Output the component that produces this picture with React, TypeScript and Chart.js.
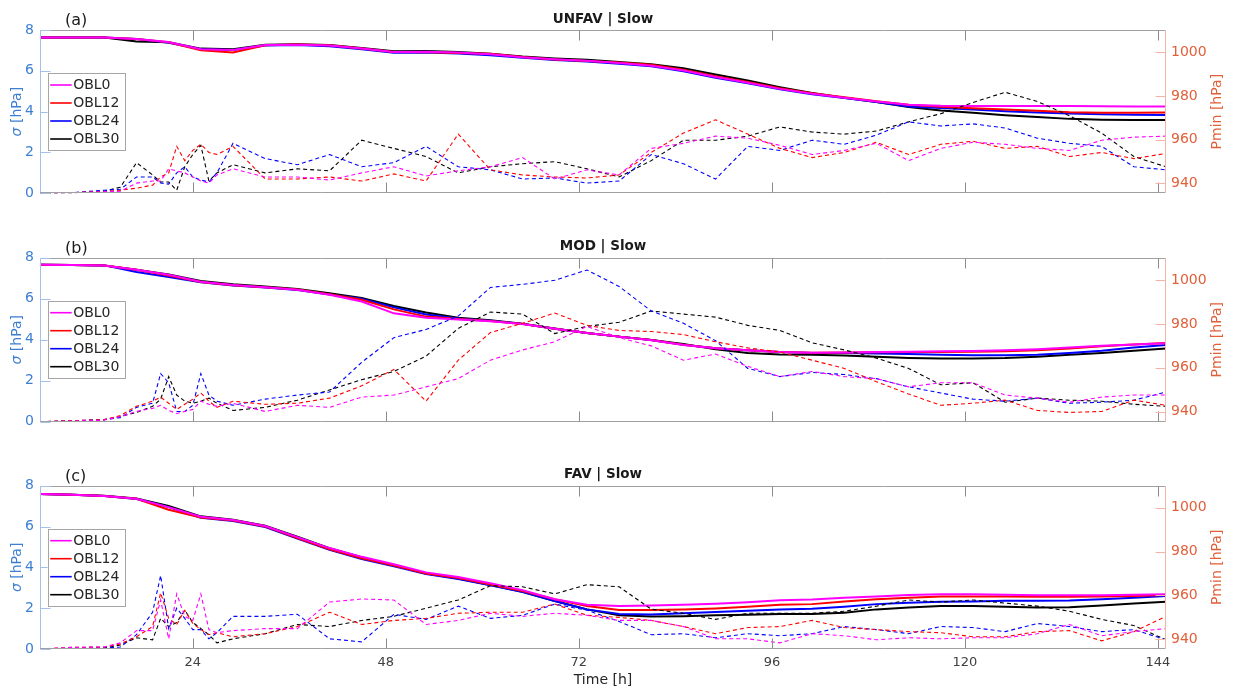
import React, { useEffect, useRef } from 'react';
import { Chart, registerables } from 'chart.js';

Chart.register(...registerables);

// ---------- data ----------
const SERIES = ['OBL0', 'OBL12', 'OBL24', 'OBL30'];
const COLORS = ['#ff00ff', '#ff0000', '#0000ff', '#000000'];
const X_TICKS = [24, 48, 72, 96, 120, 144];
const SIGMA_TICKS = [0, 2, 4, 6, 8];
const PMIN_TICKS = [940, 960, 980, 1000];

// time axis of the solid (Pmin) curves [h]
const TS = [5, 9, 13, 17, 21, 25, 29, 33, 37, 41, 45, 49, 53, 57, 61, 65, 69, 73, 77, 81, 85, 89, 93, 97, 101, 105, 109, 113, 117, 121, 125, 129, 133, 137, 141, 145];
// time axis of the dashed (sigma) curves [h]
const TD = [5, 9, 13, 15, 17, 19, 20, 21, 22, 23, 24, 25, 26, 27, 29, 33, 37, 41, 45, 49, 53, 57, 61, 65, 69, 73, 77, 81, 85, 89, 93, 97, 101, 105, 109, 113, 117, 121, 125, 129, 133, 137, 141, 145];

// (a) UNFAV | Slow  - Pmin [hPa]
const A_P0 = [1006.7, 1006.7, 1006.7, 1006.0, 1004.6, 1001.3, 1001.0, 1003.2, 1003.4, 1003.0, 1001.6, 1000.1, 1000.2, 999.8, 999.0, 997.6, 996.7, 996.0, 995.0, 993.8, 991.6, 988.6, 986.0, 983.2, 981.0, 979.2, 977.4, 976.0, 975.5, 975.4, 975.4, 975.4, 975.4, 975.3, 975.1, 975.1];
const A_P12 = [1006.7, 1006.7, 1006.7, 1006.0, 1004.5, 1000.9, 999.8, 1003.1, 1003.5, 1003.1, 1001.7, 1000.0, 999.9, 999.6, 999.2, 997.8, 996.6, 995.9, 995.2, 994.2, 992.0, 989.0, 986.4, 983.5, 981.2, 979.4, 977.5, 975.9, 975.0, 974.4, 973.8, 973.2, 972.5, 972.3, 972.3, 972.4];
const A_P24 = [1006.7, 1006.7, 1006.7, 1006.0, 1004.3, 1001.3, 1001.0, 1003.0, 1003.2, 1002.7, 1001.3, 999.7, 999.8, 999.4, 998.6, 997.4, 996.4, 995.7, 994.7, 993.5, 991.3, 988.3, 985.8, 983.0, 980.8, 979.0, 977.2, 975.2, 974.5, 973.8, 973.0, 972.4, 971.9, 971.6, 971.4, 971.3];
const A_P30 = [1006.7, 1006.7, 1006.7, 1004.9, 1004.5, 1001.6, 1001.3, 1003.4, 1003.6, 1003.2, 1001.9, 1000.4, 1000.5, 1000.0, 999.3, 998.0, 997.1, 996.5, 995.5, 994.5, 992.6, 989.8, 987.0, 984.0, 981.3, 979.2, 977.2, 974.9, 973.3, 972.3, 971.2, 970.3, 969.5, 969.1, 969.0, 969.0];
// (a) sigma [hPa]
const A_S0 = [0, 0.03, 0.08, 0.1, 0.5, 0.6, 0.6, 1.2, 1.1, 1.0, 0.8, 0.6, 0.5, 0.9, 1.2, 0.8, 0.8, 0.65, 1.0, 1.3, 0.85, 1.1, 1.3, 1.75, 0.7, 1.15, 0.9, 2.2, 2.45, 2.8, 2.7, 2.35, 1.9, 2.1, 2.45, 1.6, 2.2, 2.5, 2.4, 2.2, 2.1, 2.6, 2.75, 2.8];
const A_S12 = [0, 0.03, 0.08, 0.15, 0.25, 0.4, 0.8, 1.0, 2.3, 1.6, 2.1, 2.4, 2.0, 1.9, 2.3, 0.7, 0.7, 0.8, 0.6, 0.95, 0.6, 2.9, 1.15, 0.9, 0.8, 0.75, 0.9, 2.0, 2.95, 3.6, 2.9, 2.2, 1.75, 2.0, 2.5, 1.9, 2.4, 2.55, 2.2, 2.3, 1.8, 2.0, 1.7, 1.95];
const A_S24 = [0, 0.03, 0.15, 0.2, 0.8, 0.8, 0.5, 0.45, 1.0, 1.3, 0.8, 0.65, 0.55, 1.0, 2.45, 1.7, 1.4, 1.9, 1.3, 1.5, 2.3, 1.3, 1.15, 0.7, 0.75, 0.5, 0.6, 1.9, 1.45, 0.7, 2.3, 2.1, 2.6, 2.4, 2.85, 3.5, 3.3, 3.4, 3.2, 2.7, 2.45, 2.3, 1.3, 1.15];
const A_S30 = [0, 0.02, 0.1, 0.3, 1.5, 0.9, 0.55, 0.55, 0.15, 1.3, 1.9, 2.35, 0.6, 1.0, 1.4, 1.0, 1.2, 1.1, 2.6, 2.2, 1.8, 1.0, 1.3, 1.45, 1.55, 1.2, 0.8, 1.6, 2.6, 2.6, 2.8, 3.25, 3.0, 2.9, 3.05, 3.5, 3.9, 4.45, 4.95, 4.5, 3.8, 2.95, 1.8, 1.3];

// (b) MOD | Slow - Pmin [hPa]
const B_P0 = [1006.9, 1006.8, 1006.6, 1004.6, 1002.3, 999.2, 997.7, 996.7, 995.5, 993.2, 990.2, 984.8, 982.8, 982.0, 981.2, 979.9, 977.8, 975.8, 974.2, 972.6, 970.4, 968.9, 968.0, 967.2, 966.9, 967.0, 967.2, 967.3, 967.5, 967.7, 968.0, 968.5, 969.2, 970.0, 970.6, 971.2];
const B_P12 = [1006.9, 1006.8, 1006.6, 1004.6, 1002.0, 999.0, 997.6, 996.7, 995.6, 993.5, 991.0, 986.6, 983.3, 982.2, 981.3, 979.9, 977.8, 975.8, 974.2, 972.7, 970.5, 968.9, 968.0, 967.2, 966.9, 967.0, 967.1, 967.2, 967.2, 967.3, 967.5, 968.0, 968.8, 969.8, 970.6, 971.3];
const B_P24 = [1006.9, 1006.8, 1006.6, 1003.6, 1001.3, 998.9, 997.5, 996.6, 995.4, 993.4, 991.4, 987.5, 984.3, 982.5, 981.4, 980.0, 977.8, 975.8, 974.2, 972.7, 970.5, 968.9, 968.0, 967.2, 966.8, 966.7, 966.5, 966.3, 966.0, 965.7, 965.7, 966.0, 966.8, 967.8, 969.2, 970.4];
const B_P30 = [1006.9, 1006.8, 1006.6, 1004.6, 1002.5, 999.5, 998.0, 997.0, 995.9, 993.9, 991.8, 988.1, 985.2, 982.8, 981.6, 980.1, 977.9, 975.8, 974.2, 972.7, 970.8, 968.4, 966.8, 966.1, 966.0, 965.6, 965.0, 964.5, 964.3, 964.3, 964.5, 965.1, 966.0, 966.8, 967.8, 968.8];
// (b) sigma [hPa]
const B_S0 = [0, 0.03, 0.08, 0.25, 0.5, 0.65, 0.8, 0.55, 0.4, 0.5, 0.6, 1.0, 0.85, 0.75, 0.9, 0.5, 0.8, 0.7, 1.2, 1.3, 1.7, 2.1, 3.0, 3.5, 3.9, 4.65, 4.1, 3.7, 3.0, 3.3, 2.7, 2.2, 2.45, 2.2, 2.1, 1.7, 1.9, 1.9, 1.3, 1.15, 0.95, 1.2, 1.3, 1.3];
const B_S12 = [0, 0.05, 0.1, 0.3, 0.75, 1.0, 1.2, 0.9, 0.6, 0.85, 1.1, 1.4, 1.0, 0.7, 1.0, 0.85, 0.9, 1.15, 1.75, 2.55, 1.0, 3.0, 4.35, 4.8, 5.3, 4.7, 4.45, 4.4, 4.25, 3.9, 3.6, 3.4, 3.0, 2.6, 1.95, 1.35, 0.8, 0.9, 1.05, 0.55, 0.45, 0.5, 1.05, 0.8];
const B_S24 = [0, 0.05, 0.1, 0.2, 0.7, 0.9, 2.35, 1.9, 0.5, 0.5, 0.8, 2.35, 1.3, 1.0, 0.8, 1.1, 1.3, 1.45, 2.9, 4.1, 4.5, 5.15, 6.55, 6.7, 6.9, 7.4, 6.6, 5.4, 4.8, 3.95, 2.6, 2.2, 2.4, 2.3, 2.1, 1.7, 1.4, 1.1, 1.0, 1.15, 0.9, 0.95, 1.05, 1.45];
const B_S30 = [0, 0.03, 0.1, 0.25, 0.45, 0.75, 1.1, 2.2, 1.3, 1.0, 0.9, 1.0, 1.15, 0.9, 0.55, 0.7, 1.05, 1.55, 2.05, 2.45, 3.2, 4.55, 5.35, 5.25, 4.3, 4.65, 4.85, 5.4, 5.25, 5.1, 4.7, 4.45, 3.85, 3.5, 3.1, 2.6, 1.8, 1.9, 0.95, 1.15, 1.05, 1.0, 0.85, 0.75];

// (c) FAV | Slow - Pmin [hPa]
const C_P0 = [1006.35, 1006.0, 1005.4, 1004.1, 1000.3, 995.9, 994.4, 991.7, 986.6, 981.6, 977.6, 974.2, 970.5, 968.4, 965.5, 962.4, 958.2, 955.7, 955.1, 955.4, 955.7, 956.2, 956.9, 957.8, 958.1, 958.9, 959.5, 960.2, 960.5, 960.5, 960.3, 960.0, 960.0, 960.1, 960.3, 960.5];
const C_P12 = [1006.35, 1006.0, 1005.4, 1004.1, 999.1, 995.6, 994.2, 991.5, 986.2, 981.0, 977.0, 973.6, 970.0, 967.9, 965.0, 962.0, 958.2, 955.1, 953.3, 953.3, 953.5, 954.0, 954.8, 955.7, 956.0, 957.2, 958.2, 958.9, 959.5, 959.5, 959.5, 959.4, 959.4, 959.5, 959.7, 960.2];
const C_P24 = [1006.35, 1006.0, 1005.4, 1004.0, 1000.3, 995.5, 994.0, 991.2, 986.0, 980.8, 976.6, 973.3, 969.8, 967.5, 964.6, 961.5, 957.4, 953.6, 951.5, 951.3, 951.8, 952.4, 953.0, 953.6, 953.9, 954.8, 956.0, 956.6, 957.1, 957.2, 957.5, 957.5, 957.6, 958.2, 958.9, 959.7];
const C_P30 = [1006.35, 1006.0, 1005.5, 1004.3, 1000.8, 996.1, 994.6, 991.8, 986.8, 981.6, 977.4, 973.8, 970.0, 967.7, 964.7, 961.6, 957.4, 953.6, 950.9, 950.4, 950.5, 950.9, 951.2, 951.5, 951.5, 952.1, 953.6, 954.5, 955.1, 955.1, 954.8, 954.5, 954.6, 955.4, 956.3, 957.1];
// (c) sigma [hPa]
const C_S0 = [0, 0.08, 0.1, 0.3, 0.9, 0.9, 2.4, 0.5, 2.7, 1.6, 1.4, 2.7, 0.95, 0.8, 0.9, 1.0, 1.0, 2.3, 2.45, 2.4, 1.2, 1.4, 1.75, 1.6, 1.75, 1.65, 1.4, 1.4, 1.1, 0.5, 0.5, 0.3, 0.75, 0.65, 0.45, 0.55, 0.5, 0.55, 0.55, 0.75, 1.2, 0.65, 0.85, 1.0];
const C_S12 = [0, 0.08, 0.1, 0.25, 0.6, 1.1, 2.75, 1.5, 1.2, 1.9, 1.25, 0.95, 0.7, 0.8, 0.6, 0.75, 1.1, 1.8, 1.2, 1.4, 1.5, 1.75, 1.8, 1.8, 2.2, 1.65, 1.55, 1.4, 1.1, 0.75, 1.05, 1.1, 1.4, 1.05, 0.95, 0.85, 0.8, 0.6, 0.6, 0.85, 0.9, 0.4, 0.85, 1.6];
const C_S24 = [0, 0.05, 0.05, 0.1, 0.7, 1.8, 3.6, 1.0, 2.0, 1.5, 0.95, 0.95, 0.5, 0.8, 1.6, 1.6, 1.7, 0.5, 0.35, 1.7, 1.45, 2.1, 1.5, 1.65, 2.2, 1.9, 1.35, 0.7, 0.75, 0.55, 0.75, 0.65, 0.75, 1.1, 0.95, 0.75, 1.1, 1.05, 0.85, 1.25, 1.1, 0.85, 0.95, 0.45];
const C_S30 = [0, 0.02, 0.05, 0.2, 0.55, 0.45, 1.5, 1.1, 1.3, 1.9, 1.3, 1.0, 0.7, 0.3, 0.5, 0.75, 1.2, 1.1, 1.4, 1.6, 2.0, 2.4, 3.1, 3.05, 2.7, 3.15, 3.05, 1.95, 1.75, 1.45, 1.75, 1.75, 1.75, 1.85, 2.1, 2.4, 2.3, 2.4, 2.25, 2.1, 1.85, 1.45, 1.15, 0.45];

const PANEL_LABELS = ['(a)', '(b)', '(c)'];
const PANEL_TITLES = ['UNFAV | Slow', 'MOD | Slow', 'FAV | Slow'];
const PANEL_PMIN = [[A_P0, A_P12, A_P24, A_P30], [B_P0, B_P12, B_P24, B_P30], [C_P0, C_P12, C_P24, C_P30]];
const PANEL_SIGMA = [[A_S0, A_S12, A_S24, A_S30], [B_S0, B_S12, B_S24, B_S30], [C_S0, C_S12, C_S24, C_S30]];

// ---------- layout / style ----------
const FONT = '"DejaVu Sans", "Liberation Sans", sans-serif';
const LEFT_COL = '#3d7fd1';
const LEFT_AXIS = '#a3c1e8';
const RIGHT_COL = '#e0603a';
const RIGHT_AXIS = '#f2b6a6';
const BOX_GREY = '#a0a0a0';

const LAYOUT = [
  { top: 0, height: 228, padTop: 30, xH: 34.7, bottom: false },
  { top: 228, height: 228, padTop: 29.7, xH: 34.3, bottom: false },
  { top: 456, height: 233, padTop: 29.7, xH: 40, bottom: true },
];

function makeDecor(idx: number) {
  const lay = LAYOUT[idx];
  return {
    id: 'decor' + idx,
    afterDatasetsDraw(chart: any) {
      const ctx: CanvasRenderingContext2D = chart.ctx;
      const { left, right, top, bottom } = chart.chartArea;
      const xs = chart.scales.x;
      const ys = chart.scales.ys;
      const yp = chart.scales.yp;
      ctx.save();
      ctx.lineWidth = 1;
      const seg = (x1: number, y1: number, x2: number, y2: number, c: string) => {
        ctx.strokeStyle = c;
        ctx.beginPath();
        ctx.moveTo(x1, y1);
        ctx.lineTo(x2, y2);
        ctx.stroke();
      };
      const T = Math.round(top) + 0.5;
      const B = Math.round(bottom) - 0.5;
      const L = Math.round(left) + 0.5;
      const R = Math.round(right) - 0.5;
      // box
      seg(L, T, R, T, BOX_GREY);
      seg(L, B, R, B, BOX_GREY);
      for (const v of X_TICKS) {
        const px = Math.round(xs.getPixelForValue(v)) + 0.5;
        seg(px, T, px, T + 10, '#8c8c8c');
        seg(px, B, px, B - 10, '#8c8c8c');
      }
      seg(L, T, L, B, LEFT_AXIS);
      for (const v of SIGMA_TICKS) {
        const py = Math.round(ys.getPixelForValue(v)) + 0.5;
        seg(L, py, L + 10, py, LEFT_AXIS);
      }
      seg(R, T, R, B, RIGHT_AXIS);
      for (const v of PMIN_TICKS) {
        const py = Math.round(yp.getPixelForValue(v)) + 0.5;
        seg(R, py, R - 10, py, RIGHT_AXIS);
      }

      // legend
      const lx = left + 7.7;
      const ly = top + 43;
      ctx.fillStyle = '#ffffff';
      ctx.fillRect(lx, ly, 77.3, 77);
      ctx.strokeStyle = '#a6a6a6';
      ctx.strokeRect(Math.round(lx) + 0.5, Math.round(ly) + 0.5, 77, 77);
      ctx.font = '14px ' + FONT;
      ctx.textBaseline = 'middle';
      ctx.textAlign = 'left';
      SERIES.forEach((name, i) => {
        const yy = ly + 12 + i * 18;
        ctx.lineWidth = 1.6;
        seg(lx + 2.5, yy, lx + 24, yy, COLORS[i]);
        ctx.fillStyle = '#262626';
        ctx.fillText(name, lx + 25.5, yy + 0.5);
      });
      ctx.lineWidth = 1;

      // panel label and title
      ctx.fillStyle = '#1a1a1a';
      ctx.font = '16px ' + FONT;
      ctx.textAlign = 'left';
      ctx.fillText(PANEL_LABELS[idx], 65, top - 9);
      ctx.font = 'bold 13.5px ' + FONT;
      ctx.textAlign = 'center';
      ctx.fillText(PANEL_TITLES[idx], (left + right) / 2, top - 11);

      // left axis title (sigma)
      const mid = (top + bottom) / 2;
      ctx.save();
      ctx.translate(17, mid);
      ctx.rotate(-Math.PI / 2);
      ctx.fillStyle = LEFT_COL;
      ctx.font = 'italic 14px ' + FONT;
      const w1 = ctx.measureText('σ').width;
      ctx.font = '14px ' + FONT;
      const w2 = ctx.measureText(' [hPa]').width;
      const start = -(w1 + w2) / 2;
      ctx.textAlign = 'left';
      ctx.font = 'italic 14px ' + FONT;
      ctx.fillText('σ', start, 0);
      ctx.font = '14px ' + FONT;
      ctx.fillText(' [hPa]', start + w1, 0);
      ctx.restore();

      // right axis title (Pmin)
      ctx.save();
      ctx.translate(1217, mid);
      ctx.rotate(-Math.PI / 2);
      ctx.fillStyle = RIGHT_COL;
      ctx.font = '14px ' + FONT;
      ctx.textAlign = 'center';
      ctx.fillText('Pmin [hPa]', 0, 0);
      ctx.restore();

      if (lay.bottom) {
        ctx.fillStyle = '#262626';
        ctx.font = '14px ' + FONT;
        ctx.textAlign = 'center';
        ctx.fillText('Time [h]', (left + right) / 2, 224);
      }
      ctx.restore();
    },
  };
}

function Panel({ idx }: { idx: number }) {
  const ref = useRef<HTMLCanvasElement | null>(null);
  useEffect(() => {
    const lay = LAYOUT[idx];
    const sigma = PANEL_SIGMA[idx];
    const pmin = PANEL_PMIN[idx];
    const datasets: any[] = [];
    SERIES.forEach((name, i) => {
      datasets.push({
        label: name + ' σ',
        data: TD.map((t, k) => ({ x: t, y: sigma[i][k] })),
        yAxisID: 'ys',
        borderColor: COLORS[i],
        borderWidth: 1.1,
        borderDash: [4, 3],
        pointRadius: 0,
        tension: 0,
        fill: false,
      });
    });
    SERIES.forEach((name, i) => {
      datasets.push({
        label: name,
        data: TS.map((t, k) => ({ x: t, y: pmin[i][k] })),
        yAxisID: 'yp',
        borderColor: COLORS[i],
        borderWidth: 2,
        pointRadius: 0,
        tension: 0,
        fill: false,
      });
    });
    const plain = (v: any) => String(v);
    const chart = new Chart(ref.current as HTMLCanvasElement, {
      type: 'line',
      data: { datasets },
      plugins: [makeDecor(idx)],
      options: {
        animation: false,
        responsive: false,
        maintainAspectRatio: false,
        layout: { padding: { top: lay.padTop, left: 0, right: 0, bottom: 0 } },
        plugins: {
          legend: { display: false },
          tooltip: { enabled: false },
          title: { display: false },
        },
        scales: {
          x: {
            type: 'linear',
            position: 'bottom',
            min: 5,
            max: 145,
            afterBuildTicks: (s: any) => {
              s.ticks = X_TICKS.map((v) => ({ value: v }));
            },
            afterFit: (s: any) => {
              s.height = lay.xH;
            },
            grid: { display: false, drawTicks: false },
            border: { display: false },
            ticks: {
              display: lay.bottom,
              color: '#404040',
              font: { family: FONT, size: 13 },
              padding: 6,
              maxRotation: 0,
              autoSkip: false,
              callback: plain,
            },
          },
          ys: {
            type: 'linear',
            position: 'left',
            min: 0,
            max: 8,
            afterBuildTicks: (s: any) => {
              s.ticks = SIGMA_TICKS.map((v) => ({ value: v }));
            },
            afterFit: (s: any) => {
              s.width = 40;
            },
            grid: { display: false, drawTicks: false },
            border: { display: false },
            ticks: { color: LEFT_COL, font: { family: FONT, size: 14 }, padding: 6, callback: plain },
          },
          yp: {
            type: 'linear',
            position: 'right',
            min: 935.5,
            max: 1010.1,
            afterBuildTicks: (s: any) => {
              s.ticks = PMIN_TICKS.map((v) => ({ value: v }));
            },
            afterFit: (s: any) => {
              s.width = 70;
            },
            grid: { display: false, drawTicks: false },
            border: { display: false },
            ticks: { color: RIGHT_COL, font: { family: FONT, size: 14 }, padding: 5, callback: plain },
          },
        },
      } as any,
    });
    return () => chart.destroy();
  }, [idx]);
  const lay = LAYOUT[idx];
  return (
    <canvas
      ref={ref}
      width={1236}
      height={lay.height}
      style={{ position: 'absolute', left: 0, top: lay.top, width: 1236, height: lay.height }}
    />
  );
}

export default function App() {
  return (
    <div style={{ position: 'absolute', left: 0, top: 0, width: 1236, height: 689, background: '#ffffff', overflow: 'hidden' }}>
      <Panel idx={0} />
      <Panel idx={1} />
      <Panel idx={2} />
    </div>
  );
}
